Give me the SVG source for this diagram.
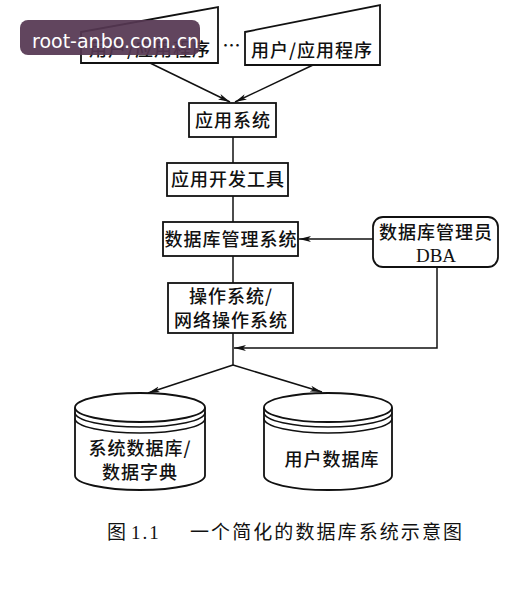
<svg xmlns="http://www.w3.org/2000/svg" width="512" height="590" viewBox="0 0 512 590">
<defs>
<marker id="ah" viewBox="0 0 12 8" refX="12" refY="4" markerWidth="12" markerHeight="8" markerUnits="userSpaceOnUse" orient="auto">
<path d="M0,1 L12,4 L0,7 L3,4 Z" fill="#111"/>
</marker>
</defs>
<style>
.box{fill:#fff;stroke:#111;stroke-width:1.8}
.t{font-family:"Noto Sans CJK SC","Noto Sans",sans-serif;font-size:18px;font-weight:500;fill:#111;text-anchor:middle;letter-spacing:1px}
.s{font-family:"Liberation Serif",serif;font-size:19px;fill:#111;text-anchor:middle}
.c{fill:none;stroke:#111;stroke-width:1.5}
.cap{font-family:"Liberation Serif","Noto Sans CJK SC",serif;font-size:19px;fill:#111}
</style>
<rect width="512" height="590" fill="#fff"/>
<g id="connectors">
<line class="c" x1="150" y1="63" x2="230" y2="102" marker-end="url(#ah)"/>
<line class="c" x1="313" y1="65" x2="235" y2="102" marker-end="url(#ah)"/>
<line class="c" x1="233" y1="137" x2="233" y2="163"/>
<line class="c" x1="233" y1="196" x2="233" y2="222"/>
<line class="c" x1="233" y1="256" x2="233" y2="283"/>
<line class="c" x1="233" y1="333" x2="233" y2="365"/>
<line class="c" x1="373" y1="239" x2="299" y2="239" marker-end="url(#ah)"/>
<polyline class="c" points="437,267 437,348 234,348" marker-end="url(#ah)"/>
<line class="c" x1="233" y1="365" x2="148" y2="393" marker-end="url(#ah)"/>
<line class="c" x1="233" y1="365" x2="322" y2="392" marker-end="url(#ah)"/>
</g>
<g id="app1">
<polygon class="box" points="81,32 218,7 218,63 81,63"/>
<text class="t" x="150" y="56">用户/应用程序</text>
</g>
<g id="dots">
<text class="t" x="232" y="52">…</text>
</g>
<g id="app2">
<polygon class="box" points="245,32 380,5 380,65 245,65"/>
<text class="t" x="312" y="57">用户/应用程序</text>
</g>
<g id="appsys">
<rect class="box" x="189" y="103" width="87" height="34"/>
<text class="t" x="233" y="127">应用系统</text>
</g>
<g id="devtool">
<rect class="box" x="167" y="163" width="121" height="33"/>
<text class="t" x="228" y="186">应用开发工具</text>
</g>
<g id="dbms">
<rect class="box" x="163" y="222" width="135" height="34"/>
<text class="t" x="231" y="246">数据库管理系统</text>
</g>
<g id="dba">
<rect class="box" x="373" y="217" width="125" height="50" rx="10"/>
<text class="t" x="436" y="239">数据库管理员</text>
<text class="s" x="436" y="262">DBA</text>
</g>
<g id="os">
<rect class="box" x="168" y="283" width="125" height="50"/>
<text class="t" x="231" y="303">操作系统/</text>
<text class="t" x="231" y="327">网络操作系统</text>
</g>
<g id="sysdb">
<path class="box" d="M75,407.5 L75,475.5 A65,14.5 0 0 0 205,475.5 L205,407.5"/>
<ellipse class="box" cx="140" cy="407.5" rx="65" ry="14.5"/>
<path class="c" d="M75,412.5 A65,14.5 0 0 0 205,412.5 M75,418.5 A65,14.5 0 0 0 205,418.5"/>
<text class="t" x="140" y="455" font-size="17">系统数据库/</text>
<text class="t" x="140" y="479" font-size="17">数据字典</text>
</g>
<g id="userdb">
<path class="box" d="M264,407.5 L264,475.5 A64,14.5 0 0 0 392,475.5 L392,407.5"/>
<ellipse class="box" cx="328" cy="407.5" rx="64" ry="14.5"/>
<path class="c" d="M264,412.5 A64,14.5 0 0 0 392,412.5 M264,418.5 A64,14.5 0 0 0 392,418.5"/>
<text class="t" x="332" y="466">用户数据库</text>
</g>
<g id="caption">
<text class="cap" x="107" y="539">图</text>
<text class="cap" x="131" y="539" letter-spacing="2">1.1</text>
<text class="cap" x="190" y="539" textLength="272" lengthAdjust="spacing">一个简化的数据库系统示意图</text>
</g>
<g id="watermark">
<rect x="20" y="20" width="180" height="35" rx="8" fill="#553752" fill-opacity="0.93"/>
<text x="32" y="48" font-family="'DejaVu Sans',sans-serif" font-size="19" fill="#fff">root-anbo.com.cn</text>
</g>
</svg>
